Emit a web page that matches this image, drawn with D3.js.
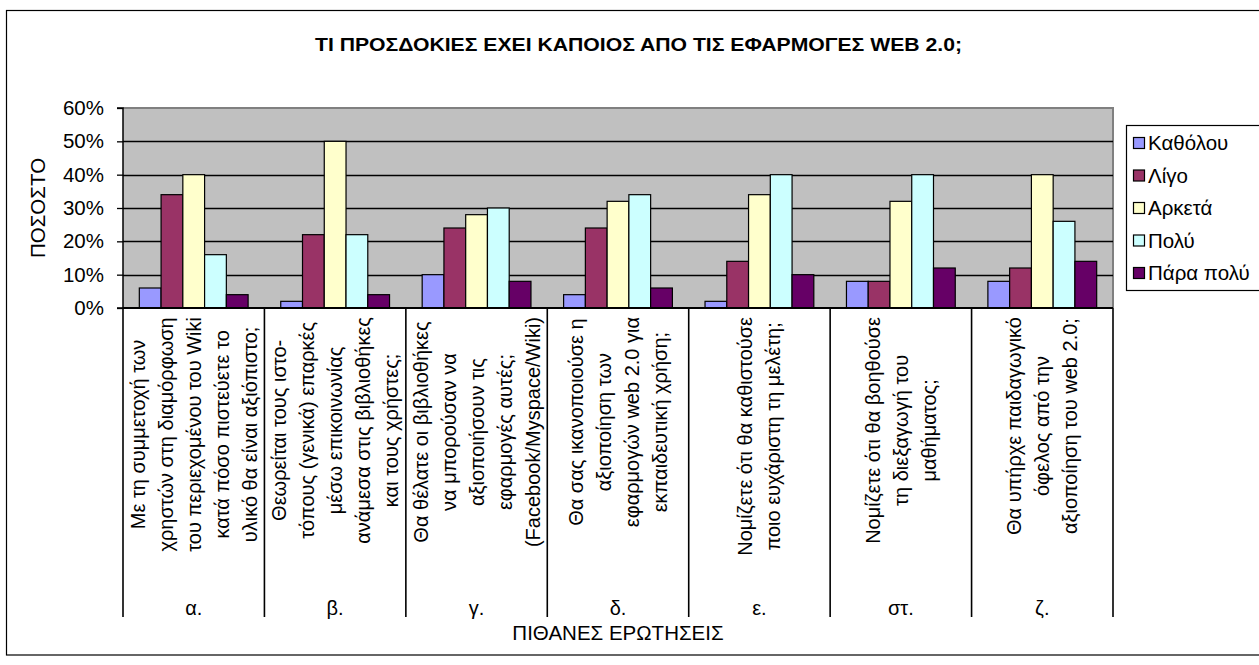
<!DOCTYPE html>
<html>
<head>
<meta charset="utf-8">
<script src="https://cdn.jsdelivr.net/npm/d3@7"></script>
<style>
  html, body { margin: 0; padding: 0; background: #fff; }
  svg { display: block; }
  text { font-family: "Liberation Sans", Arial, sans-serif; fill: #000; }
</style>
</head>
<body>
<svg id="chart" width="1259" height="665"></svg>
<script>
// Question codes along the x axis
const categories = ["α.", "β.", "γ.", "δ.", "ε.", "στ.", "ζ."];

// Full question text, one array of wrapped lines per question
const questionLines = [
  ["Με τη συμμετοχή των", "χρηστών στη διαμόρφωση", "του περιεχομένου του Wiki", "κατά πόσο πιστεύετε το", "υλικό θα είναι αξιόπιστο;"],
  ["Θεωρείται τους ιστο-", "τόπους (γενικά) επαρκές", "μέσω επικοινωνίας", "ανάμεσα στις βιβλιοθήκες", "και τους χρήστες;"],
  ["Θα θέλατε οι βιβλιοθήκες", "να μπορούσαν να", "αξιοποιήσουν τις", "εφαρμογές αυτές;", "(Facebook/Myspace/Wiki)"],
  ["Θα σας ικανοποιούσε η", "αξιοποίηση των", "εφαρμογών web 2.0 για", "εκπαιδευτική χρήση;"],
  ["Νομίζετε ότι θα καθιστούσε", "ποιο ευχάριστη τη μελέτη;"],
  ["Νομίζετε ότι θα βοηθούσε", "τη διεξαγωγή του", "μαθήματος;"],
  ["Θα υπήρχε παιδαγωγικό", "όφελος από την", "αξιοποίηση του web 2.0;"]
];

// Answer levels (series)
const seriesNames = ["Καθόλου", "Λίγο", "Αρκετά", "Πολύ", "Πάρα πολύ"];
const seriesColors = ["#9999FF", "#993366", "#FFFFCC", "#CCFFFF", "#660066"];

// Share of answers per question, one array per level (fractions)
const valuesKatholou = [0.06, 0.02, 0.10, 0.04, 0.02, 0.08, 0.08];
const valuesLigo     = [0.34, 0.22, 0.24, 0.24, 0.14, 0.08, 0.12];
const valuesArketa   = [0.40, 0.50, 0.28, 0.32, 0.34, 0.32, 0.40];
const valuesPoly     = [0.16, 0.22, 0.30, 0.34, 0.40, 0.40, 0.26];
const valuesParaPoly = [0.04, 0.04, 0.08, 0.06, 0.10, 0.12, 0.14];
const seriesValues = [valuesKatholou, valuesLigo, valuesArketa, valuesPoly, valuesParaPoly];

const yTicks = [0, 0.1, 0.2, 0.3, 0.4, 0.5, 0.6];

const titleText = "ΤΙ ΠΡΟΣΔΟΚΙΕΣ ΕΧΕΙ ΚΑΠΟΙΟΣ ΑΠΟ ΤΙΣ ΕΦΑΡΜΟΓΕΣ WEB 2.0;";
const yTitle = "ΠΟΣΟΣΤΟ";
const xTitle = "ΠΙΘΑΝΕΣ ΕΡΩΤΗΣΕΙΣ";

// ---- layout ----
const svg = d3.select("#chart");
const plot = { left: 123, right: 1113, top: 108, bottom: 308 };
const labelBottom = 617;
const fontSize = 20;

// Outer chart frame
svg.append("rect")
  .attr("x", 6.5).attr("y", 10.5)
  .attr("width", 1262 - 6.5).attr("height", 655 - 10.5)
  .attr("fill", "#fff").attr("stroke", "#000").attr("stroke-width", 1.2);

const x0 = d3.scaleBand().domain(categories).range([plot.left, plot.right]).padding(0);
const y = d3.scaleLinear().domain([0, 0.6]).range([plot.bottom, plot.top]);

// Plot background
svg.append("rect")
  .attr("x", plot.left).attr("y", plot.top)
  .attr("width", plot.right - plot.left).attr("height", plot.bottom - plot.top)
  .attr("fill", "#C0C0C0");

// Plot frame (grey top and right edge)
svg.append("path")
  .attr("d", `M${plot.left},${plot.top}H${plot.right}V${plot.bottom}`)
  .attr("fill", "none").attr("stroke", "#808080").attr("stroke-width", 2);

// Horizontal gridlines
svg.append("g").selectAll("line")
  .data(yTicks.filter(t => t > 0 && t < 0.6))
  .join("line")
  .attr("x1", plot.left).attr("x2", plot.right)
  .attr("y1", d => Math.round(y(d)) + 0.5).attr("y2", d => Math.round(y(d)) + 0.5)
  .attr("stroke", "#000").attr("stroke-width", 1.3);

// Bars: five per question, gap of 1.5 bar widths between groups
const barWidth = x0.bandwidth() / 6.5;
const barOffset = barWidth * 0.75;
const groups = svg.append("g").selectAll("g")
  .data(categories)
  .join("g")
  .attr("transform", d => `translate(${x0(d)},0)`);

groups.selectAll("rect")
  .data((d, ci) => seriesValues.map((vals, si) => ({ si, v: vals[ci] })))
  .join("rect")
  .attr("x", d => barOffset + d.si * barWidth)
  .attr("y", d => y(d.v))
  .attr("width", barWidth)
  .attr("height", d => y(0) - y(d.v))
  .attr("fill", d => seriesColors[d.si])
  .attr("stroke", "#000").attr("stroke-width", 1.2);

// Y axis
const yAxis = d3.axisLeft(y).tickValues(yTicks).tickFormat(d3.format(".0%")).tickSize(6).tickPadding(13);
const yAxisG = svg.append("g").attr("transform", `translate(${plot.left},0)`).call(yAxis);
yAxisG.select(".domain").attr("stroke", "#000").attr("stroke-width", 1.5).attr("d", `M-6,${plot.top}H0V${plot.bottom}H-6`);
yAxisG.selectAll(".tick line").attr("stroke", "#000").attr("stroke-width", 1.3);
yAxisG.selectAll(".tick text")
  .style("font-family", '"Liberation Sans", Arial, sans-serif')
  .style("font-size", "20.5px").attr("fill", "#000");

// X axis baseline and category separators
svg.append("line")
  .attr("x1", plot.left).attr("x2", plot.right)
  .attr("y1", plot.bottom).attr("y2", plot.bottom)
  .attr("stroke", "#000").attr("stroke-width", 1.8);

const boundaries = categories.map(c => x0(c)).concat([plot.right]);
svg.append("g").selectAll("line")
  .data(boundaries)
  .join("line")
  .attr("x1", d => d).attr("x2", d => d)
  .attr("y1", plot.bottom).attr("y2", labelBottom)
  .attr("stroke", "#000").attr("stroke-width", 1.6);

// Rotated question text under each category
const lineGap = 28;
const labelTop = 317;
categories.forEach((c, ci) => {
  const lines = questionLines[ci];
  const cx = x0(c) + x0.bandwidth() / 2;
  const g = svg.append("g");
  const texts = g.selectAll("text")
    .data(lines)
    .join("text")
    .attr("text-anchor", "middle")
    .attr("dy", "0.35em")
    .style("font-size", fontSize + "px")
    .text(d => d);
  let maxW = 0;
  texts.each(function () { maxW = Math.max(maxW, this.getComputedTextLength()); });
  const cy = labelTop + maxW / 2;
  texts.attr("transform", (d, i) => {
    const lx = cx + (i - (lines.length - 1) / 2) * lineGap;
    return `translate(${lx},${cy}) rotate(-90)`;
  });
  // Question code
  svg.append("text")
    .attr("x", cx).attr("y", 615)
    .attr("text-anchor", "middle")
    .style("font-size", fontSize + "px")
    .text(c);
});

// Axis titles
svg.append("text")
  .attr("x", (plot.left + plot.right) / 2).attr("y", 640)
  .attr("text-anchor", "middle")
  .style("font-size", "20.5px")
  .text(xTitle);

svg.append("text")
  .attr("transform", `translate(38,${(plot.top + plot.bottom) / 2}) rotate(-90)`)
  .attr("text-anchor", "middle")
  .attr("dy", "0.35em")
  .style("font-size", "20.5px")
  .text(yTitle);

// Chart title
svg.append("text")
  .attr("x", 638.5).attr("y", 51)
  .attr("text-anchor", "middle")
  .attr("textLength", 647).attr("lengthAdjust", "spacingAndGlyphs")
  .style("font-size", "18px").style("font-weight", "bold")
  .text(titleText);

// Legend
const legend = { x: 1126.5, y: 125.5, w: 140, h: 165 };
svg.append("rect")
  .attr("x", legend.x).attr("y", legend.y)
  .attr("width", legend.w).attr("height", legend.h)
  .attr("fill", "#fff").attr("stroke", "#000").attr("stroke-width", 1.2);

const legendRows = svg.append("g").selectAll("g")
  .data(seriesNames)
  .join("g")
  .attr("transform", (d, i) => `translate(1133,${143 + i * 32.5})`);
legendRows.append("rect")
  .attr("x", 0.5).attr("y", -5.5).attr("width", 11).attr("height", 11)
  .attr("fill", (d, i) => seriesColors[i])
  .attr("stroke", "#000").attr("stroke-width", 1.2);
legendRows.append("text")
  .attr("x", 15).attr("dy", "0.35em")
  .style("font-size", "20.5px")
  .text(d => d);
</script>
</body>
</html>
